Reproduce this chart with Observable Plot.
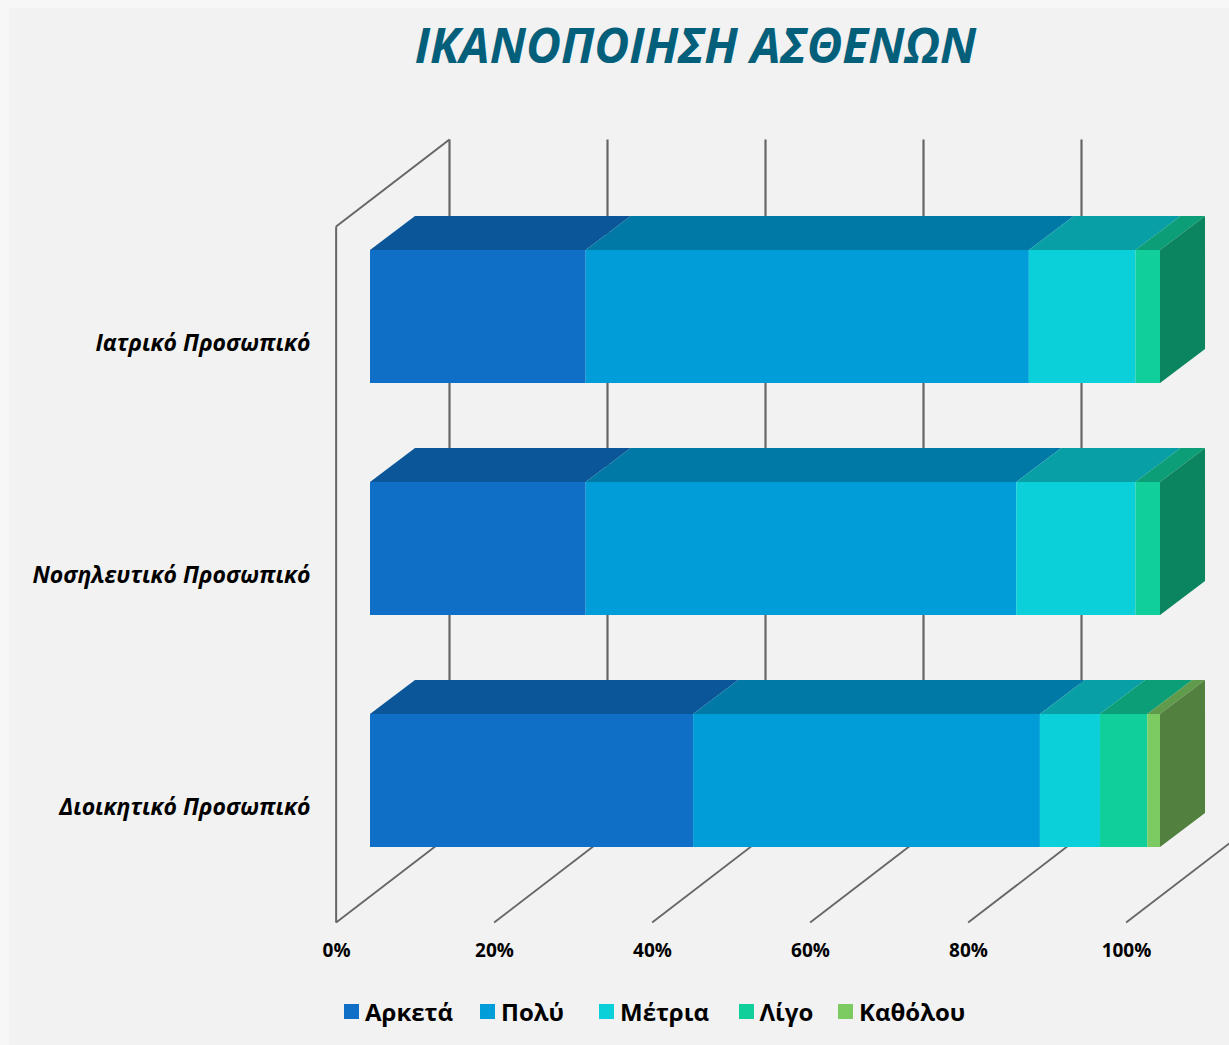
<!DOCTYPE html>
<html lang="el">
<head>
<meta charset="utf-8">
<script src="https://cdn.jsdelivr.net/npm/d3@7"></script>
<script src="https://cdn.jsdelivr.net/npm/@observablehq/plot@0.6"></script>
<style>
  html, body { margin: 0; padding: 0; }
  body { position: relative; width: 1229px; height: 1045px; overflow: hidden; background: #f7f7f7; font-family: "Open Sans", sans-serif; }
  body::before { content: ""; position: absolute; left: 9px; top: 8px; right: 0; bottom: 0; background: #f2f2f2; z-index: 0; }
  #title, #chart, #legend { position: relative; z-index: 1; }
  #title { height: 90px; box-sizing: border-box; padding: 10px 0 0 162px; text-align: center; font: italic 700 48px/70px "Open Sans", sans-serif; color: #045f7b; white-space: nowrap; }
  #chart svg { display: block; background: transparent; }
  #legend { padding: 25px 0 0 344px; }
  #legend span { margin: 0 !important; }
  #legend span > svg { margin-right: 6px !important; }
  #legend span:nth-of-type(1) { width: 136px; }
  #legend span:nth-of-type(2) { width: 119px; }
  #legend span:nth-of-type(3) { width: 139.5px; }
  #legend span:nth-of-type(4) { width: 99.5px; }
</style>
</head>
<body>
<div id="title">ΙΚΑΝΟΠΟΙΗΣΗ ΑΣΘΕΝΩΝ</div>
<div id="chart"></div>
<div id="legend"></div>
<script>
const title = "ΙΚΑΝΟΠΟΙΗΣΗ ΑΣΘΕΝΩΝ";
const categories = ["Ιατρικό Προσωπικό", "Νοσηλευτικό Προσωπικό", "Διοικητικό Προσωπικό"];
const levels = ["Αρκετά", "Πολύ", "Μέτρια", "Λίγο", "Καθόλου"];
const arketa  = [27.3, 27.3, 40.9];
const poly    = [56.1, 54.5, 43.9];
const metria  = [13.5, 15.1, 7.6];
const ligo    = [3.1, 3.1, 6.0];
const katholou = [0, 0, 1.6];
const seriesValues = [arketa, poly, metria, ligo, katholou];
const frontColors = ["#0f6fc6", "#009dd9", "#0bd0d9", "#10cf9b", "#7cca62"];
const topColors   = ["#0b5599", "#0079a7", "#089fa6", "#0c9e76", "#5f9b4b"];
const sideColors  = ["#0a4a85", "#006a92", "#078a90", "#0b8560", "#52803f"];
const xTicks = [0, 20, 40, 60, 80, 100];

// 3-D projection constants, in data units of the two scales
const half = 0.2866, barDX = 5.7, barDY = 0.1466;
const wallFrontX = -4.35, wallBackX = 10, floorFrontY = 2.61, floorBackY = 2.235, wallTopFrontY = -0.39, wallTopBackY = -0.765;

const segments = [];
categories.forEach((cat, r) => {
  let acc = 0;
  levels.forEach((lev, s) => {
    const v = seriesValues[s][r];
    if (v > 0) segments.push({r, s, a: acc, b: acc + v, key: r + "-" + s});
    acc += v;
  });
});
const lastSegments = categories.map((_, r) => segments.filter(d => d.r === r).at(-1));
const topPts = segments.flatMap(d => [
  {key: d.key, s: d.s, x1: d.a, x2: d.b, y: d.r - half},
  {key: d.key, s: d.s, x1: d.a + barDX, x2: d.b + barDX, y: d.r - half - barDY}
]);
const sidePts = lastSegments.flatMap(d => [
  {key: d.key, s: d.s, x: d.b, y1: d.r - half, y2: d.r + half},
  {key: d.key, s: d.s, x: d.b + barDX, y1: d.r - half - barDY, y2: d.r + half - barDY}
]);
const wallLines = [
  {x1: wallFrontX, y1: floorFrontY, x2: wallFrontX, y2: wallTopFrontY},
  {x1: wallFrontX, y1: wallTopFrontY, x2: wallBackX, y2: wallTopBackY}
];

const chart = Plot.plot({
  width: 1229,
  height: 880,
  marginLeft: 370,
  marginRight: 69,
  marginTop: 30,
  marginBottom: 27,
  style: {background: "transparent", fontFamily: '"Open Sans", sans-serif', color: "#000"},
  x: {domain: [0, 100], range: [370, 1160]},
  y: {domain: [0, 2], range: [226.5, 690.5]},
  marks: [
    Plot.link(xTicks.slice(0, -1), {x1: d => d + wallBackX, x2: d => d + wallBackX, y1: wallTopBackY, y2: floorBackY, stroke: "#666", strokeWidth: 2.2}),
    Plot.link(xTicks, {x1: d => d + wallFrontX, y1: floorFrontY, x2: d => d + wallBackX, y2: floorBackY, stroke: "#666", strokeWidth: 1.8}),
    Plot.link(wallLines, {x1: "x1", y1: "y1", x2: "x2", y2: "y2", stroke: "#666", strokeWidth: 2}),
    Plot.area(topPts, {x1: "x1", x2: "x2", y1: "y", y2: "y", z: "key", fill: {value: d => topColors[d.s], scale: null}}),
    Plot.area(sidePts, {x1: "x", x2: "x", y1: "y1", y2: "y2", z: "key", fill: {value: d => sideColors[d.s], scale: null}}),
    Plot.rect(segments, {x1: "a", x2: "b", y1: d => d.r - half, y2: d => d.r + half, fill: {value: d => frontColors[d.s], scale: null}}),
    Plot.axisX({ticks: xTicks, tickFormat: d => d + "%", tickSize: 0, tickPadding: 0, dx: -34, label: null, fontSize: 19, fontWeight: 700}),
    Plot.axisY({ticks: [0, 1, 2], tickFormat: i => categories[i], tickSize: 0, tickPadding: 60, dy: 27, label: null, fontSize: 23, fontWeight: 700, fontStyle: "italic"})
  ]
});
document.getElementById("chart").append(chart);

const legend = Plot.legend({
  color: {domain: levels, range: frontColors, type: "ordinal"},
  legend: "swatches",
  swatchSize: 15,
  className: "lg",
  style: {fontSize: "24px", fontWeight: 700, fontFamily: '"Open Sans", sans-serif', color: "#000", margin: 0, minHeight: 0}
});
document.getElementById("legend").append(legend);
</script>
</body>
</html>
